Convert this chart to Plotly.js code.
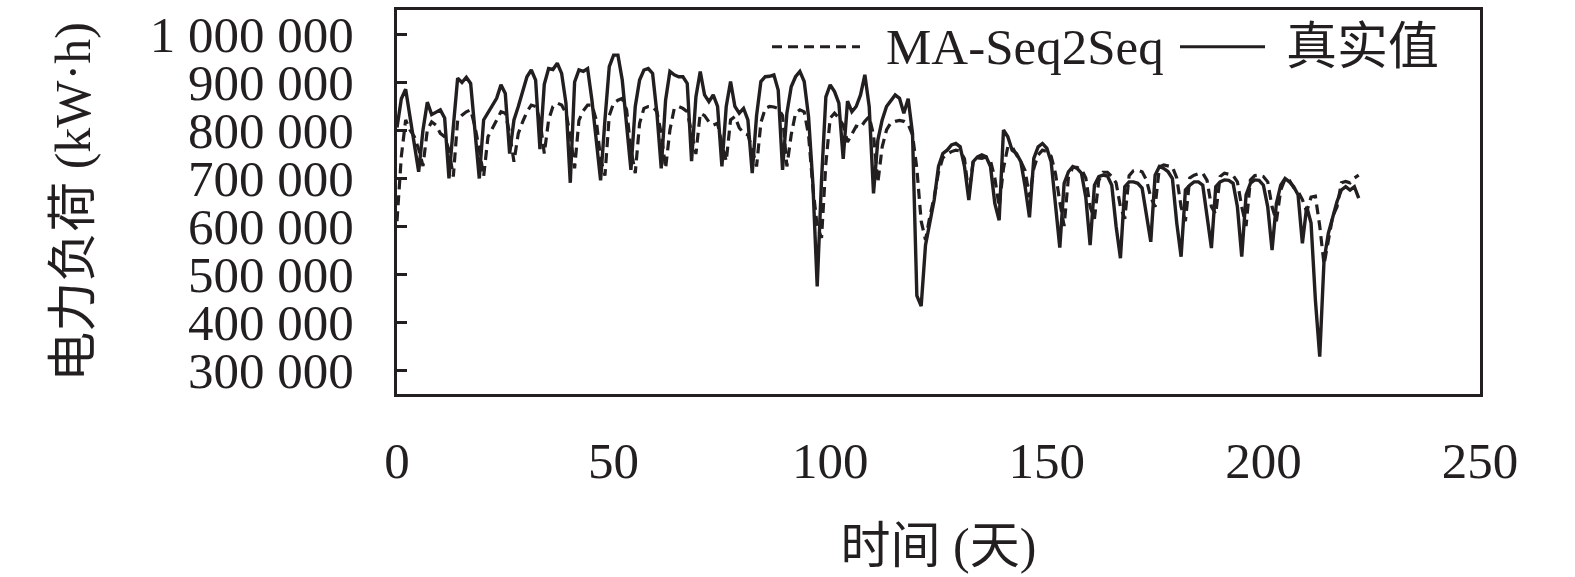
<!DOCTYPE html>
<html>
<head>
<meta charset="utf-8">
<script src="https://cdn.plot.ly/plotly-3.0.1.min.js"></script>
<style>
  html, body { margin: 0; padding: 0; background: #fff; }
  #plot { width: 1575px; height: 577px; }
</style>
</head>
<body>
<div id="plot"></div>
<script>
// daily load, day 0 .. 222 (kW·h)
var actual = [
  805000, 865000, 885000, 828000, 772000, 713000, 800000, 858000, 832000, 838000,
  842000, 825000, 699000, 807000, 908000, 899000, 910000, 897000, 800000, 699000,
  821000, 836000, 849000, 866000, 894000, 876000, 751000, 821000, 849000, 883000,
  911000, 925000, 904000, 760000, 895000, 928000, 926000, 939000, 918000, 856000,
  690000, 900000, 925000, 922000, 928000, 862000, 786000, 695000, 821000, 932000,
  956000, 956000, 904000, 807000, 717000, 849000, 904000, 925000, 928000, 918000,
  835000, 720000, 862000, 922000, 915000, 911000, 911000, 897000, 735000, 869000,
  922000, 873000, 859000, 873000, 849000, 724000, 849000, 901000, 849000, 835000,
  845000, 821000, 710000, 830000, 901000, 911000, 912000, 915000, 883000, 717000,
  835000, 890000, 911000, 922000, 901000, 828000, 689000, 474000, 696000, 869000,
  894000, 880000, 856000, 740000, 860000, 838000, 849000, 873000, 915000, 849000,
  668000, 779000, 821000, 849000, 862000, 873000, 866000, 835000, 865000, 793000,
  455000, 433000, 560000, 610000, 654000, 724000, 751000, 758000, 769000, 772000,
  765000, 724000, 654000, 734000, 744000, 748000, 744000, 724000, 647000, 612000,
  800000, 786000, 758000, 751000, 734000, 682000, 618000, 741000, 765000, 772000,
  762000, 734000, 650000, 555000, 689000, 713000, 724000, 720000, 710000, 660000,
  560000, 685000, 703000, 706000, 704000, 685000, 599000, 533000, 682000, 692000,
  692000, 689000, 679000, 620000, 567000, 706000, 724000, 720000, 713000, 699000,
  606000, 536000, 675000, 685000, 692000, 692000, 685000, 620000, 554000, 682000,
  692000, 696000, 695000, 689000, 640000, 536000, 665000, 689000, 696000, 695000,
  685000, 640000, 550000, 647000, 685000, 699000, 692000, 682000, 665000, 564000,
  640000, 606000, 446000, 328000, 529000, 585000, 616000, 651000, 675000, 682000,
  675000, 682000, 658000
];

var predicted = [
  610000, 745000, 821000, 800000, 786000, 760000, 725000, 800000, 817000, 810000,
  793000, 786000, 758000, 703000, 821000, 831000, 838000, 842000, 807000, 760000,
  703000, 786000, 803000, 821000, 838000, 835000, 793000, 734000, 793000, 817000,
  838000, 852000, 849000, 821000, 751000, 821000, 849000, 856000, 852000, 835000,
  790000, 720000, 820000, 840000, 852000, 852000, 821000, 740000, 705000, 830000,
  856000, 862000, 866000, 842000, 760000, 710000, 814000, 845000, 849000, 849000,
  838000, 793000, 720000, 800000, 845000, 849000, 845000, 838000, 790000, 750000,
  835000, 830000, 817000, 810000, 814000, 770000, 735000, 821000, 828000, 805000,
  793000, 790000, 760000, 724000, 815000, 845000, 849000, 848000, 845000, 830000,
  724000, 790000, 835000, 842000, 838000, 790000, 680000, 600000, 575000, 730000,
  825000, 835000, 825000, 810000, 775000, 790000, 808000, 805000, 818000, 828000,
  790000, 690000, 765000, 800000, 815000, 818000, 820000, 818000, 812000, 790000,
  720000, 610000, 571000, 620000, 660000, 712000, 742000, 750000, 755000, 758000,
  756000, 740000, 665000, 735000, 742000, 741000, 744000, 736000, 700000, 640000,
  720000, 765000, 765000, 748000, 735000, 715000, 660000, 720000, 748000, 758000,
  755000, 745000, 710000, 650000, 600000, 702000, 722000, 722000, 718000, 700000,
  640000, 615000, 695000, 712000, 712000, 703000, 690000, 640000, 615000, 705000,
  715000, 716000, 713000, 696000, 660000, 640000, 723000, 727000, 725000, 723000,
  700000, 640000, 610000, 700000, 706000, 709000, 710000, 695000, 640000, 625000,
  703000, 710000, 708000, 705000, 692000, 640000, 600000, 696000, 705000, 706000,
  703000, 692000, 640000, 610000, 675000, 698000, 695000, 680000, 672000, 655000,
  630000, 660000, 662000, 600000, 520000, 570000, 620000, 640000, 690000, 693000,
  690000, 700000, 706000
];

var yTickVals = [300000, 400000, 500000, 600000, 700000, 800000, 900000, 1000000];
var yTickText = ["300 000", "400 000", "500 000", "600 000", "700 000", "800 000", "900 000", "1 000 000"];
var xTickVals = [0, 50, 100, 150, 200, 250];

var seriesNames = ["MA-Seq2Seq", "真实值"];

var ink = "#231f20";
var fontFam = "Liberation Serif, 'Noto Sans CJK SC', serif";

var predTrace = {
  y: predicted, x0: 0, dx: 1,
  name: seriesNames[0],
  mode: "lines", type: "scatter",
  line: { color: ink, width: 3.2, dash: "10px,6px" },
  showlegend: false
};
var realTrace = {
  y: actual, x0: 0, dx: 1,
  name: seriesNames[1],
  mode: "lines", type: "scatter",
  line: { color: ink, width: 3.4 },
  showlegend: false
};

// hand-made legend (long line samples like the original)
function px(x) { return (x - 397) / 1083; }
var legY = 0.904;

var layout = {
  width: 1575, height: 577,
  margin: { l: 397, r: 95, t: 10, b: 183 },
  paper_bgcolor: "#fff", plot_bgcolor: "#fff",
  font: { family: fontFam, size: 50, color: ink },
  xaxis: {
    range: [0, 250], tickvals: xTickVals,
    showgrid: false, zeroline: false,
    showline: true, mirror: true, linecolor: ink, linewidth: 3,
    ticks: "", ticklabelstandoff: 20,
    tickfont: { family: fontFam, size: 51, color: ink },
    title: { text: "时间 (天)", standoff: 40, font: { family: fontFam, size: 50, color: ink } }
  },
  yaxis: {
    range: [250000, 1050000], tickvals: yTickVals, ticktext: yTickText,
    showgrid: false, zeroline: false,
    showline: true, mirror: true, linecolor: ink, linewidth: 3,
    ticks: "inside", ticklen: 10, tickwidth: 3, tickcolor: ink,
    ticklabelstandoff: 30,
    tickfont: { family: fontFam, size: 51, color: ink },
    title: { text: "电力负荷 (kW·h)", standoff: 44, font: { family: fontFam, size: 50, color: ink } }
  },
  shapes: [
    { type: "line", xref: "paper", yref: "paper", x0: px(772), x1: px(860), y0: legY, y1: legY,
      line: { color: ink, width: 3, dash: "10px,6px" } },
    { type: "line", xref: "paper", yref: "paper", x0: px(1180), x1: px(1265), y0: legY, y1: legY,
      line: { color: ink, width: 3 } }
  ],
  annotations: [
    { xref: "paper", yref: "paper", x: px(884), y: legY, xanchor: "left", yanchor: "middle",
      text: seriesNames[0], showarrow: false, font: { family: fontFam, size: 51, color: ink } },
    { xref: "paper", yref: "paper", x: px(1284), y: legY, xanchor: "left", yanchor: "middle",
      text: seriesNames[1], showarrow: false, font: { family: fontFam, size: 51, color: ink } }
  ]
};

Plotly.newPlot("plot", [predTrace, realTrace], layout, { displayModeBar: false, staticPlot: true });
</script>
</body>
</html>
